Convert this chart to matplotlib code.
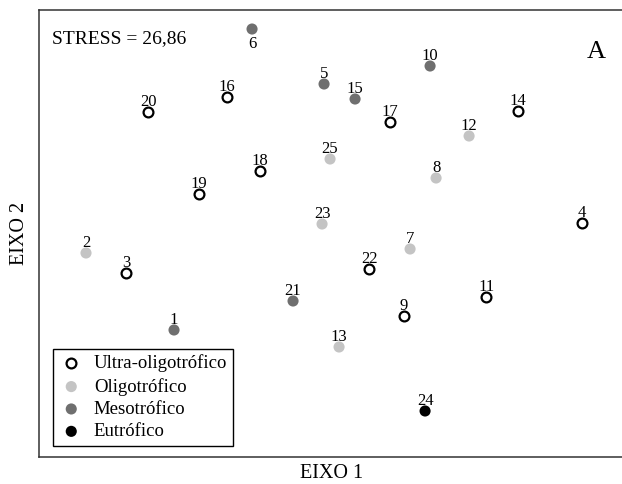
import matplotlib
matplotlib.use("Agg")
import matplotlib.pyplot as plt

plt.rcParams["font.family"] = ["Liberation Serif", "DejaVu Serif"]

# NMDS scores for the 25 sampling sites
site_ids = list(range(1, 26))
eixo1 = [-0.780, -1.220, -1.020, 1.260, -0.030, -0.390, 0.400, 0.530, 0.370, 0.500,
         0.780, 0.695, 0.045, 0.940, 0.125, -0.515, 0.300, -0.350, -0.655, -0.910,
         -0.185, 0.195, -0.040, 0.475, 0.000]
eixo2 = [-0.465, -0.080, -0.180, 0.070, 0.765, 1.040, -0.060, 0.295, -0.395, 0.855,
         -0.300, 0.505, -0.550, 0.630, 0.690, 0.700, 0.575, 0.330, 0.215, 0.625,
         -0.320, -0.160, 0.065, -0.870, 0.390]

# trophic state of each site
trophic = ["Meso", "Oligo", "Ultra", "Ultra", "Meso", "Meso", "Oligo", "Oligo", "Ultra", "Meso",
           "Ultra", "Oligo", "Oligo", "Ultra", "Meso", "Ultra", "Ultra", "Ultra", "Ultra", "Ultra",
           "Meso", "Ultra", "Oligo", "Eutro", "Oligo"]

groups = ["Ultra", "Oligo", "Meso", "Eutro"]
group_labels = ["Ultra-oligotrófico", "Oligotrófico", "Mesotrófico", "Eutrófico"]
stress = "26,86"

styles = {
    "Ultra": dict(marker="o", s=50, facecolors="white", edgecolors="black", linewidths=1.6),
    "Oligo": dict(marker="o", s=64, facecolors="#c4c4c4", edgecolors="none"),
    "Meso": dict(marker="o", s=64, facecolors="#6f6f6f", edgecolors="none"),
    "Eutro": dict(marker="o", s=64, facecolors="black", edgecolors="none"),
}

fig = plt.figure(figsize=(6.22, 4.84), dpi=100)
ax = fig.add_axes([0.0627, 0.0558, 0.9423, 0.9235])

for g, lab in zip(groups, group_labels):
    xs = [x for x, t in zip(eixo1, trophic) if t == g]
    ys = [y for y, t in zip(eixo2, trophic) if t == g]
    ax.scatter(xs, ys, label=lab, zorder=3, **styles[g])

for sid, x, y in zip(site_ids, eixo1, eixo2):
    if sid == 6:
        ax.annotate(str(sid), (x, y), xytext=(0, -5), textcoords="offset points",
                    ha="center", va="top", fontsize=12)
    else:
        ax.annotate(str(sid), (x, y), xytext=(0, 4), textcoords="offset points",
                    ha="center", va="baseline", fontsize=12)

ax.set_xlim(-1.455, 1.475)
ax.set_ylim(-1.1, 1.135)
ax.set_xticks([])
ax.set_yticks([])
for sp in ax.spines.values():
    sp.set_color("#333333")
    sp.set_linewidth(1.1)

ax.text(0.023, 0.955, f"STRESS = {stress}", transform=ax.transAxes,
        fontsize=14, ha="left", va="top")
ax.text(0.935, 0.93, "A", transform=ax.transAxes, fontsize=19, ha="left", va="top")

ax.set_xlabel("EIXO 1", fontsize=14.5, labelpad=5)
ax.set_ylabel("EIXO 2", fontsize=14.5, labelpad=7)

leg = ax.legend(loc="lower left", bbox_to_anchor=(0.024, 0.024), fontsize=13.5,
                frameon=True, fancybox=False, framealpha=1, edgecolor="black",
                handletextpad=0.55, labelspacing=0.28, borderpad=0.32,
                handlelength=1.3, borderaxespad=0)
leg.get_frame().set_linewidth(1.0)

fig.savefig("out.png", dpi=100)
